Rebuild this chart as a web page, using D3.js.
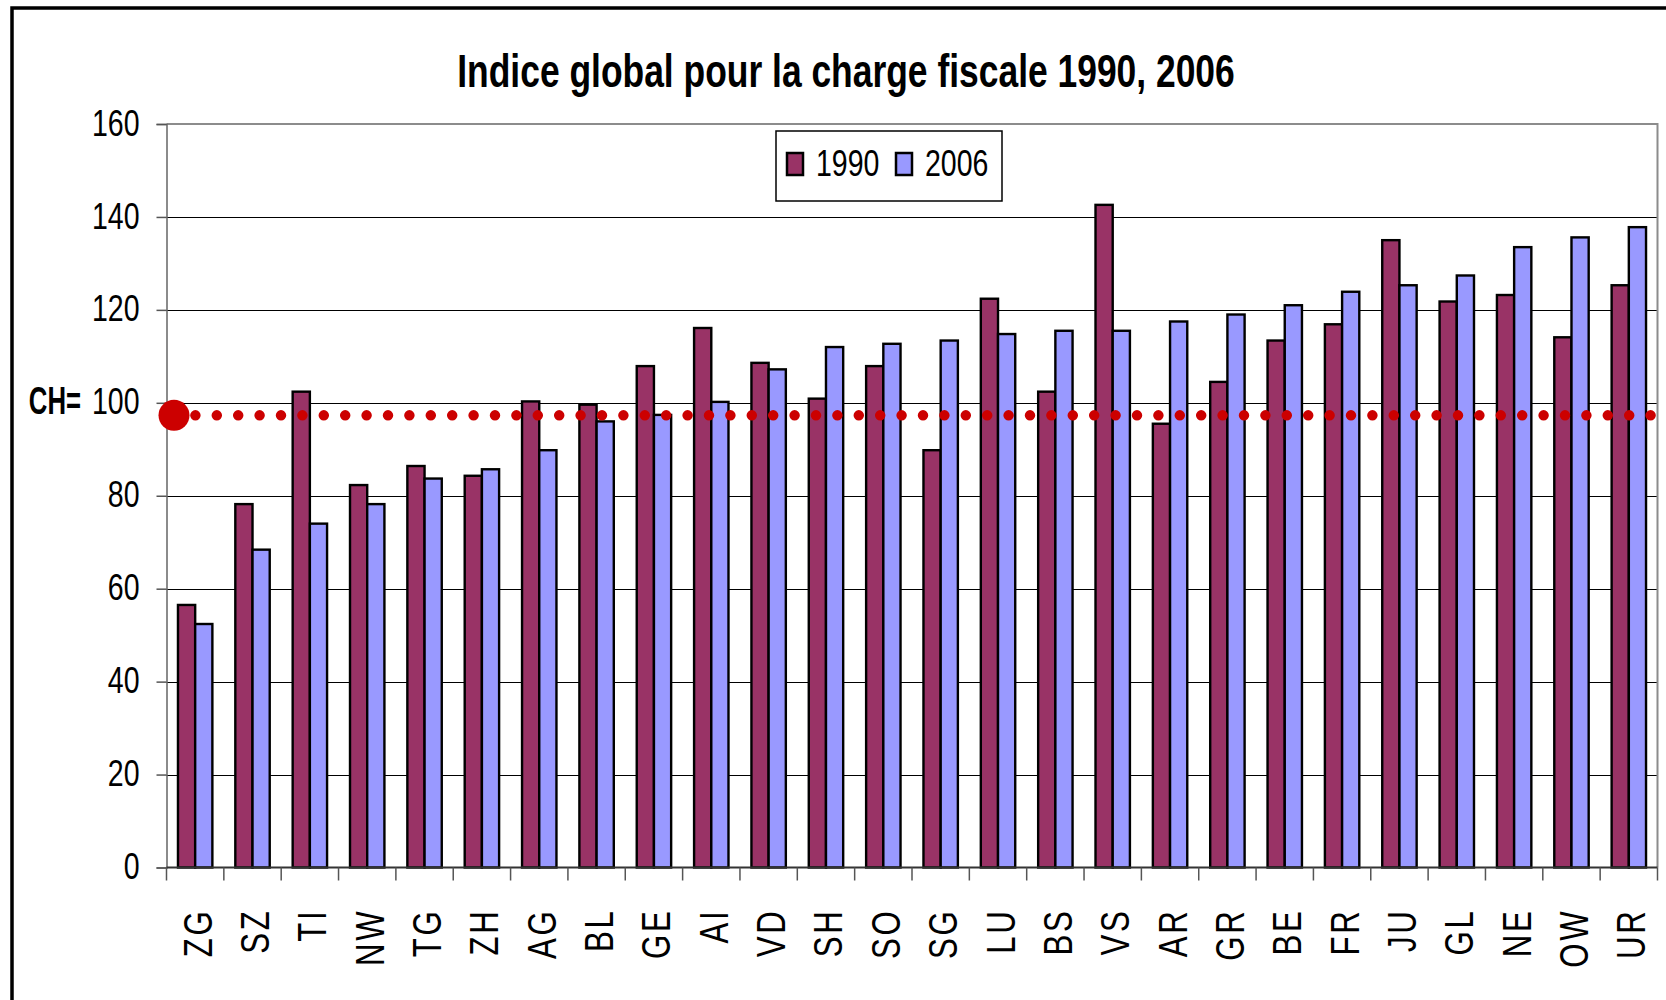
<!DOCTYPE html>
<html>
<head>
<meta charset="utf-8">
<script src="https://cdnjs.cloudflare.com/ajax/libs/d3/7.8.5/d3.min.js"></script>
<style>
  body { margin: 0; background: #fff; }
  svg { display: block; }
  text { font-family: "Liberation Sans", Arial, sans-serif; }
</style>
</head>
<body>
<div id="chart"></div>
<script>
'use strict';

// cantons, sorted as in the original chart
const cantons = ["ZG","SZ","TI","NW","TG","ZH","AG","BL","GE","AI","VD","SH","SO",
                 "SG","LU","BS","VS","AR","GR","BE","FR","JU","GL","NE","OW","UR"];
const series = ["1990", "2006"];
const values1990 = [56.5, 78.2, 102.4, 82.3, 86.4, 84.3, 100.3, 99.6, 107.9, 116.1, 108.6, 100.9, 107.9,
                    89.8, 122.4, 102.4, 142.6, 95.5, 104.5, 113.4, 116.9, 135.0, 121.8, 123.2, 114.1, 125.3];
const values2006 = [52.4, 68.4, 74.0, 78.2, 83.7, 85.7, 89.8, 96.0, 97.4, 100.2, 107.2, 112.0, 112.7,
                    113.4, 114.8, 115.5, 115.5, 117.5, 119.0, 121.0, 123.9, 125.3, 127.4, 133.5, 135.6, 137.8];
const yTicks = [0, 20, 40, 60, 80, 100, 120, 140, 160];
const chValue = 97.3;   // level where the dotted "CH=100" reference line sits
const colors = {"1990": "#993366", "2006": "#9999ff"};

const W = 1666, H = 1000;
const plot = {left: 166.5, top: 124, right: 1657.5, bottom: 867.5};
const narrow = 0.77;    // no narrow font installed: squeeze Liberation Sans instead

const svg = d3.select("#chart").append("svg").attr("width", W).attr("height", H);

// outer frame
svg.append("rect")
  .attr("x", 12).attr("y", 8).attr("width", W).attr("height", H)
  .attr("fill", "none").attr("stroke", "#000").attr("stroke-width", 3.5);

const x = d3.scaleBand().domain(cantons).range([plot.left, plot.right]).padding(0);
const x1 = d3.scaleBand().domain(series).range([x.bandwidth() * 0.2, x.bandwidth() * 0.8]);
const y = d3.scaleLinear().domain([0, 160]).range([plot.bottom, plot.top]);

// gridlines
svg.append("g").selectAll("line").data(yTicks.filter(t => t > 0 && t < 160)).join("line")
  .attr("x1", plot.left).attr("x2", plot.right)
  .attr("y1", d => Math.round(y(d)) + 0.5).attr("y2", d => Math.round(y(d)) + 0.5)
  .attr("stroke", "#000").attr("stroke-width", 1);

// plot frame (top + right in grey)
svg.append("path")
  .attr("d", `M${plot.left},${y(160)}H${plot.right}V${plot.bottom}`)
  .attr("fill", "none").attr("stroke", "#8c8c8c").attr("stroke-width", 2);

// bars
const rows = cantons.map((c, i) => ({canton: c, "1990": values1990[i], "2006": values2006[i]}));
const groups = svg.append("g").selectAll("g").data(rows).join("g")
  .attr("transform", d => `translate(${x(d.canton)},0)`);
groups.selectAll("rect").data(d => series.map(s => ({s: s, v: d[s]}))).join("rect")
  .attr("x", d => x1(d.s))
  .attr("width", x1.bandwidth())
  .attr("y", d => y(d.v))
  .attr("height", d => y(0) - y(d.v))
  .attr("fill", d => colors[d.s])
  .attr("stroke", "#000").attr("stroke-width", 2.4);

// y axis
const yAxis = svg.append("g").attr("transform", `translate(${plot.left},0)`)
  .attr("font-family", null)
  .call(d3.axisLeft(y).tickValues(yTicks).tickSize(10).tickPadding(16));
yAxis.select(".domain").attr("stroke", "#666").attr("stroke-width", 1.5);
yAxis.selectAll(".tick line").attr("stroke", "#555").attr("stroke-width", 1.5);
yAxis.selectAll(".tick text")
  .attr("x", null)
  .attr("transform", `translate(-27,0) scale(${narrow},1)`)
  .attr("font-size", 37).attr("dy", "0.3em").attr("fill", "#000");

// x axis: ticks at category boundaries
const bounds = cantons.map(c => x(c)).concat([plot.right]);
svg.append("line")
  .attr("x1", plot.left).attr("x2", plot.right)
  .attr("y1", plot.bottom).attr("y2", plot.bottom)
  .attr("stroke", "#333").attr("stroke-width", 2);
svg.append("g").selectAll("line").data(bounds).join("line")
  .attr("x1", d => d).attr("x2", d => d)
  .attr("y1", plot.bottom).attr("y2", plot.bottom + 13)
  .attr("stroke", "#555").attr("stroke-width", 1.5);

svg.append("g").selectAll("text").data(cantons).join("text")
  .attr("transform", d => `translate(${x(d) + x.bandwidth() / 2 + 16.5},908.5) rotate(-90) scale(0.78,1)`)
  .attr("text-anchor", "end")
  .attr("font-size", 40)
  .attr("letter-spacing", 3.5)
  .text(d => d);

// CH reference line
const yCH = y(chValue);
svg.append("line")
  .attr("x1", plot.left + 7.5).attr("x2", W + 10)
  .attr("y1", yCH).attr("y2", yCH)
  .attr("stroke", "#cc0000").attr("stroke-width", 10.5)
  .attr("stroke-linecap", "round")
  .attr("stroke-dasharray", "0 21.4");
svg.append("circle")
  .attr("cx", plot.left + 7.5).attr("cy", yCH).attr("r", 15.5)
  .attr("fill", "#cc0000");

svg.append("text")
  .attr("transform", `translate(81,${y(100) + 11}) scale(0.66,1)`)
  .attr("text-anchor", "end")
  .attr("font-size", 39).attr("font-weight", "bold")
  .text("CH=");

// title
svg.append("text")
  .attr("transform", `translate(846,87) scale(${narrow},1)`)
  .attr("text-anchor", "middle")
  .attr("font-size", 46).attr("font-weight", "bold")
  .text("Indice global pour la charge fiscale 1990, 2006");

// legend
const lg = svg.append("g").attr("transform", "translate(776,131)");
lg.append("rect").attr("width", 226).attr("height", 70)
  .attr("fill", "#fff").attr("stroke", "#000").attr("stroke-width", 1.5);
const items = [{s: "1990", x: 11}, {s: "2006", x: 120}];
items.forEach(it => {
  lg.append("rect").attr("x", it.x).attr("y", 22).attr("width", 16).attr("height", 22)
    .attr("fill", colors[it.s]).attr("stroke", "#000").attr("stroke-width", 2.5);
  lg.append("text").attr("transform", `translate(${it.x + 29},45) scale(${narrow},1)`)
    .attr("font-size", 37).text(it.s);
});
</script>
</body>
</html>
